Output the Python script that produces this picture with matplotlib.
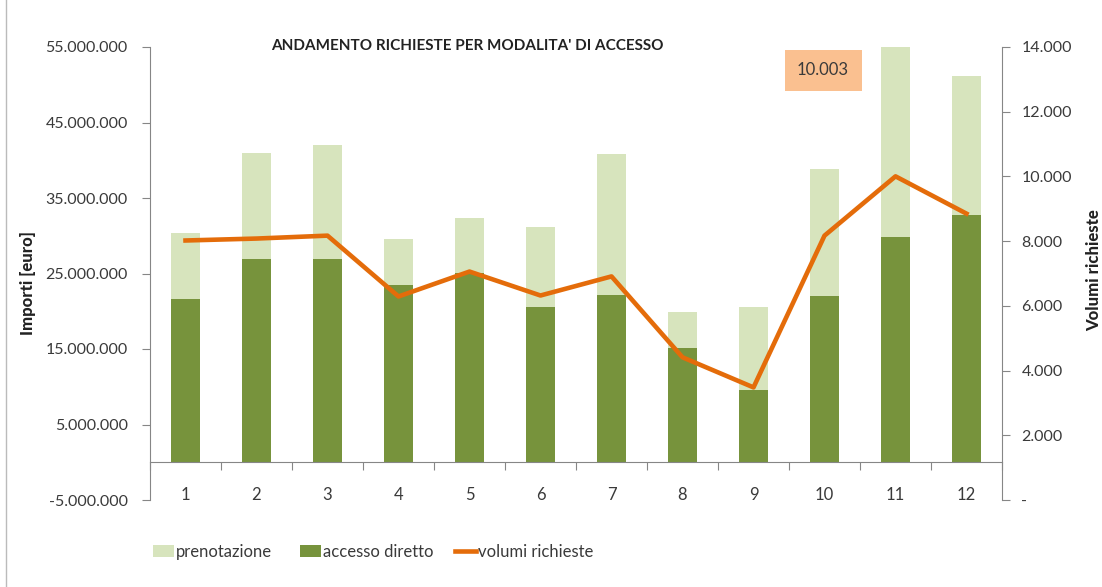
import matplotlib.pyplot as plt
from matplotlib.ticker import FuncFormatter
import numpy as np

plt.rcParams['font.family'] = ['Lato', 'DejaVu Sans']

# dati
mesi = ['1', '2', '3', '4', '5', '6', '7', '8', '9', '10', '11', '12']
accesso_diretto = [21600000, 26900000, 26900000, 23500000, 25100000, 20600000,
                   22200000, 15100000, 9600000, 22000000, 29800000, 32700000]
prenotazione = [8800000, 14100000, 15100000, 6100000, 7300000, 10600000,
                18600000, 4800000, 11000000, 16800000, 25200000, 18400000]
volumi = [8020, 8080, 8170, 6290, 7060, 6320, 6910, 4410, 3480, 8170, 10003, 8850]

verde_chiaro = '#D7E4BD'
verde_scuro = '#77933C'
arancio = '#E46C0A'
grigio = '#868686'
testo = '#3A3A3A'

fig = plt.figure(figsize=(11.02, 5.87), dpi=100)
ax = fig.add_axes([150 / 1102, 1 - 500 / 587, 852 / 1102, 453 / 587])
ax2 = ax.twinx()

x = np.arange(1, len(mesi) + 1)
ax.bar(x, accesso_diretto, width=0.4, color=verde_scuro, label='accesso diretto', zorder=2)
ax.bar(x, prenotazione, width=0.4, bottom=accesso_diretto, color=verde_chiaro,
       label='prenotazione', zorder=2)
ax2.plot(x, volumi, color=arancio, lw=3.3, label='volumi richieste', zorder=3)

ax.set_xlim(0.5, 12.5)
ax.set_ylim(-5000000, 55000000)
ax2.set_ylim(0, 14000)
ax.set_yticks(np.arange(-5000000, 55000001, 10000000))
ax2.set_yticks(np.arange(0, 14001, 2000))

fmt = lambda v, p: f"{int(round(v)):,}".replace(',', '.')
ax.yaxis.set_major_formatter(FuncFormatter(fmt))
ax2.yaxis.set_major_formatter(FuncFormatter(lambda v, p: '-' if v == 0 else fmt(v, p)))

# asse x sulla linea dello zero
ax.spines['bottom'].set_position(('data', 0))
ax.spines['top'].set_visible(False)
ax.spines['right'].set_visible(False)
for s in ['left', 'bottom']:
    ax.spines[s].set_color(grigio)
for s in ['left', 'top', 'bottom']:
    ax2.spines[s].set_visible(False)
ax2.spines['right'].set_color(grigio)

ax.set_xticks(np.arange(0.5, 13, 1))
ax.set_xticklabels([])
ax.set_xticks(x, mesi, minor=True)
ax.tick_params(axis='x', which='major', direction='out', length=6, color=grigio)
ax.tick_params(axis='x', which='minor', length=0, pad=18, labelsize=12, labelcolor=testo)
ax.tick_params(axis='y', direction='out', length=6, color=grigio, pad=10,
               labelsize=11.5, labelcolor=testo)
ax2.tick_params(axis='y', direction='out', length=6, color=grigio, pad=8,
                labelsize=11.5, labelcolor=testo)

fig.text(467 / 1102, 1 - 46 / 587, "ANDAMENTO RICHIESTE PER MODALITA' DI ACCESSO",
         ha='center', va='center', fontsize=11, fontweight='bold', color='#222222')
fig.text(28 / 1102, 1 - 283 / 587, 'Importi [euro]', rotation=90, ha='center',
         va='center', fontsize=12, fontweight='black', color='#222222')
fig.text(1094 / 1102, 1 - 270 / 587, 'Volumi richieste', rotation=90, ha='center',
         va='center', fontsize=12, fontweight='black', color='#222222')

# etichetta del massimo
fig.text(823 / 1102, 1 - 70 / 587, '10.003', ha='center', va='center', fontsize=12,
         color=testo, bbox=dict(boxstyle='square,pad=0.75', fc='#FAC090', ec='none'))

# cornice a sinistra
fig.add_artist(plt.Line2D([6 / 1102, 6 / 1102], [0, 1], color='#BBBBBB', lw=1))

# legenda: tre voci posizionate singolarmente
h1, l1 = ax.get_legend_handles_labels()
h2, l2 = ax2.get_legend_handles_labels()
voci = [(h1[1], l1[1], 153), (h1[0], l1[0], 300), (h2[0], l2[0], 455)]
for h, l, xpos in voci:
    leg = fig.legend([h], [l], frameon=False, loc='center left',
                     bbox_to_anchor=(xpos / 1102, 1 - 552 / 587), fontsize=12,
                     handlelength=1.25, handletextpad=0.15, borderpad=0,
                     borderaxespad=0, labelcolor=testo)

fig.savefig('out.png', dpi=100)
